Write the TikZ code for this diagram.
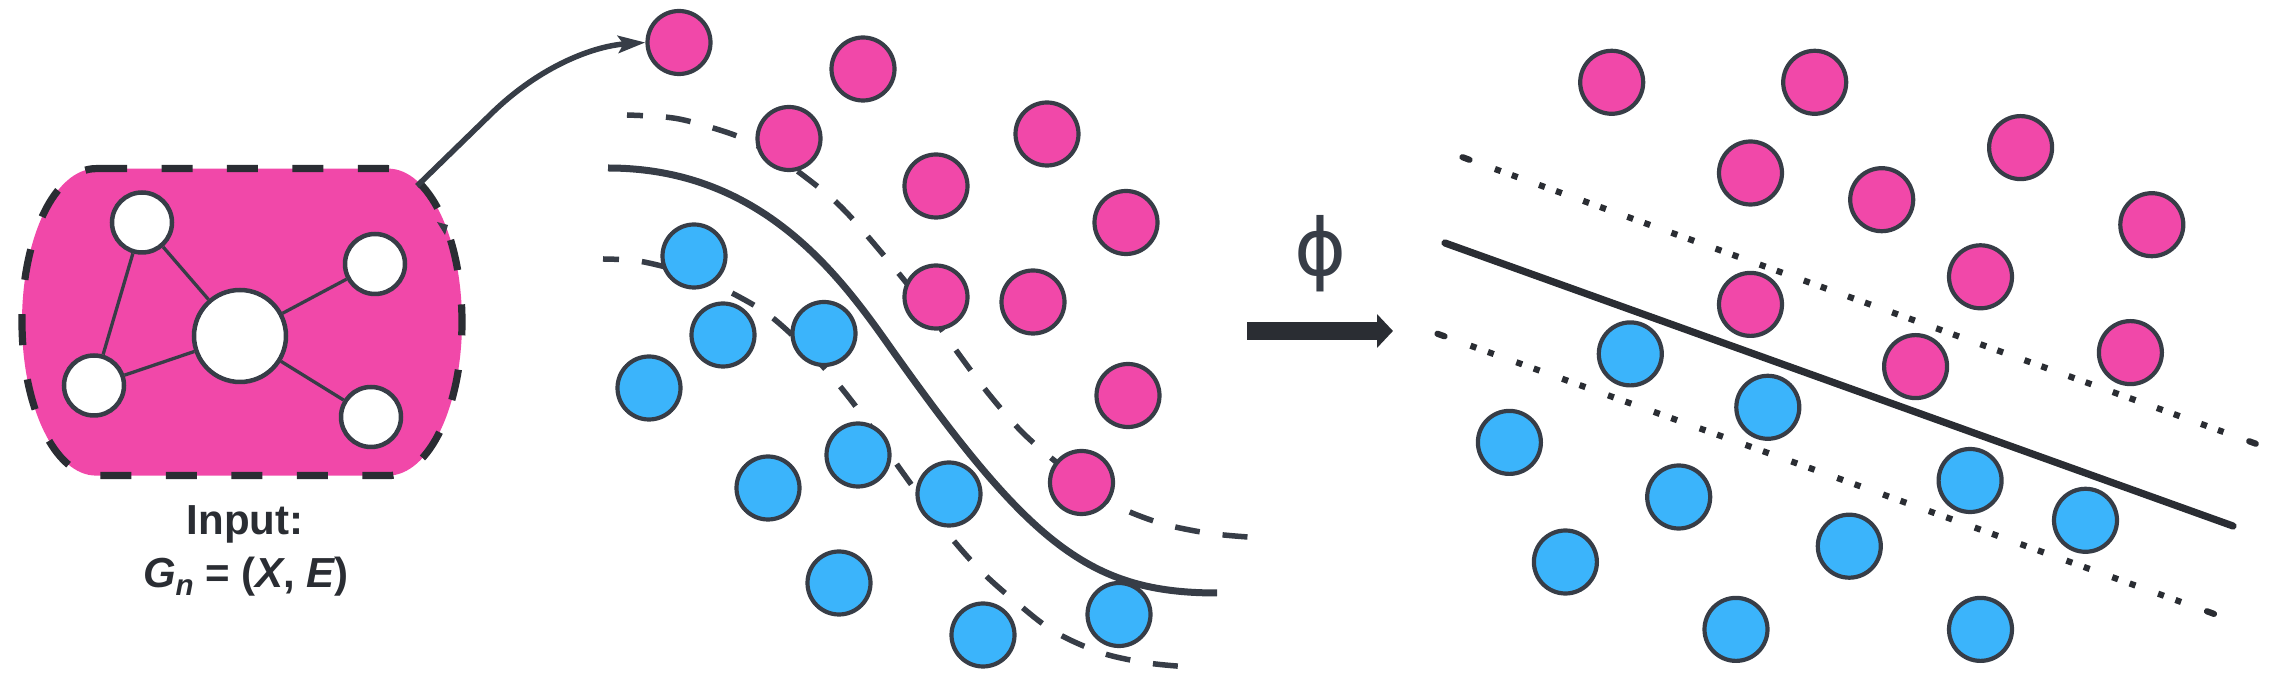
\documentclass[tikz,border=0pt]{standalone}
\usepackage{fontspec}
\setmainfont{Liberation Sans}
\newfontfamily\dejavu{DejaVu Sans}
\usetikzlibrary{arrows.meta}
\definecolor{pinkc}{HTML}{F148A9}
\definecolor{bluec}{HTML}{3BB4FB}
\definecolor{edgec}{HTML}{373D47}
\definecolor{darkc}{HTML}{2A2D33}
\begin{document}
\begin{tikzpicture}[x=0.1mm,y=-0.1mm,
  pt/.style={circle, draw=edgec, line width=0.42mm, minimum size=6.3mm, inner sep=0pt},
  pinkdot/.style={pt, fill=pinkc},
  bluedot/.style={pt, fill=bluec},
  gnode/.style={circle, draw=edgec, fill=white, line width=0.45mm, minimum size=6.0mm, inner sep=0pt},
  bignode/.style={gnode, minimum size=9.2mm},
  gedge/.style={draw=edgec, line width=0.33mm},
  boxborder/.style={draw=darkc, line width=0.72mm, dash pattern=on 3.1mm off 3.45mm},
  sepcurve/.style={draw=edgec, line width=0.7mm},
  margincurve/.style={draw=edgec, line width=0.55mm, dash pattern=on 2.5mm off 2.3mm, dash phase=0.9mm},
  conn/.style={draw=edgec, line width=0.55mm, -{Stealth[length=2.7mm, width=1.7mm, inset=0.5mm]}},
  hyper/.style={draw=darkc, line width=0.72mm, line cap=round},
  dotsA/.style={draw=darkc, line width=0.62mm, dash pattern=on 0.62mm off 1.18mm on 0.62mm off 2.272mm},
  dotsB/.style={draw=darkc, line width=0.62mm, dash pattern=on 0.62mm off 1.23mm on 0.62mm off 2.403mm},
  enddash/.style={draw=darkc, line width=0.62mm, line cap=round},
  lbl/.style={text=darkc, inner sep=0pt, anchor=base, font=\bfseries\fontsize{11.95}{15}\selectfont}
]
\useasboundingbox (0,0) rectangle (2283,687);

% ---------- input graph box ----------
\path[fill=pinkc] (96,168.6) -- (388,168.6)
  .. controls (428.9,168.6) and (462,237.2) .. (462,322)
  .. controls (462,406.8) and (428.9,475.6) .. (388,475.6)
  -- (96,475.6)
  .. controls (55.1,475.6) and (22,406.8) .. (22,322)
  .. controls (22,237.2) and (55.1,168.6) .. (96,168.6) -- cycle;
\path[boxborder] (96,168.6) -- (388,168.6)
  .. controls (428.9,168.6) and (462,237.2) .. (462,322)
  .. controls (462,406.8) and (428.9,475.6) .. (388,475.6)
  -- (96,475.6)
  .. controls (55.1,475.6) and (22,406.8) .. (22,322)
  .. controls (22,237.2) and (55.1,168.6) .. (96,168.6) -- cycle;
\fill[edgec] (437,222) -- (448,225) -- (445,235) -- cycle;

\node[gnode] (g1) at (142,222.5) {};
\node[gnode] (g2) at (375,264) {};
\node[bignode] (gc) at (240,336) {};
\node[gnode] (g3) at (94,385.5) {};
\node[gnode] (g4) at (371,417) {};
\draw[gedge] (g1) -- (gc);
\draw[gedge] (g1) -- (g3);
\draw[gedge] (gc) -- (g2);
\draw[gedge] (gc) -- (g3);
\draw[gedge] (gc) -- (g4);

\node[lbl] (inp) at (245,535) {Input:};
\node[lbl] (gdef) at (246,588) {{\itshape G}\raisebox{-0.17em}{\fontsize{8.4}{10}\selectfont\itshape n} = ({\itshape X}, {\itshape E})};

% ---------- middle panel curves ----------
\draw[margincurve] plot[smooth, tension=0.55] coordinates {(627,115) (665,117) (692,122) (737,136) (770,153) (800,173) (837,203) (870,239) (920,300) (958,353) (988,393) (1020,430) (1050,457) (1080,480) (1115,505) (1160,523) (1207,533) (1248,537)};
\draw[margincurve] plot[smooth, tension=0.55] coordinates {(603,259) (644,262) (700,278) (757,307) (790,333) (827,371) (860,412) (903,473) (945,530) (980,570) (1017,603) (1055,632) (1102,653) (1148,663) (1190,667)};
\coordinate (sepA) at (608,168);
\coordinate (sepM) at (890,347);
\coordinate (sepB) at (1217,593);
\draw[sepcurve] (sepA) .. controls (760,168) and (838,273) .. (sepM)
  .. controls (1030,545) and (1090,593) .. (sepB);

% ---------- middle panel points ----------
\node[pinkdot] (mp1) at (679,42.5) {};
\node[pinkdot] (mp2) at (863,69) {};
\node[pinkdot] (mp3) at (789,138.5) {};
\node[pinkdot] (mp4) at (1047,134) {};
\node[pinkdot] (mp5) at (936,186) {};
\node[pinkdot] (mp6) at (1126,222.5) {};
\node[pinkdot] (mp7) at (936,297) {};
\node[pinkdot] (mp8) at (1033,302) {};
\node[pinkdot] (mp9) at (1128,395.5) {};
\node[pinkdot] (mp10) at (1081.5,482.5) {};

\node[bluedot] (mb1) at (694,256) {};
\node[bluedot] (mb2) at (723,335) {};
\node[bluedot] (mb3) at (824,333.5) {};
\node[bluedot] (mb4) at (649,388) {};
\node[bluedot] (mb5) at (858,455) {};
\node[bluedot] (mb6) at (768,488) {};
\node[bluedot] (mb7) at (949,494) {};
\node[bluedot] (mb8) at (839,583) {};
\node[bluedot] (mb9) at (983,635) {};
\node[bluedot] (mb10) at (1119,614.5) {};

% ---------- arrow from graph to first point ----------
\coordinate (boxout) at (417,186);
\coordinate (bendpt) at (491,114);
\draw[conn] (boxout) -- (bendpt) .. controls (541,65) and (595,46) .. (mp1.west);

% ---------- phi mapping ----------
\node[font=\dejavu\fontsize{22.5}{26}\selectfont, text=edgec, inner sep=0pt] (phi) at (1321,253.4) {ϕ};
\coordinate (phiA) at (1247,331);
\coordinate (phiB) at (1393,331);
\draw[darkc, line width=1.8mm, -{Triangle[length=1.6mm, width=3.3mm]}] (phiA) -- (phiB);

% ---------- right panel lines ----------
\coordinate (hA) at (1445,243);
\coordinate (hB) at (2233,526);
\draw[hyper] (hA) -- (hB);
\coordinate (uA) at (1494.9,169.0);
\coordinate (uB) at (2223.5,432.0);
\draw[dotsA] (uA) -- (uB);
\draw[enddash] (1462.5,157.2) -- (1469.5,159.8);
\draw[enddash] (2249.2,441.3) -- (2255.8,443.7);
\coordinate (lA) at (1470.5,345.7);
\coordinate (lB) at (2181.1,602.0);
\draw[dotsB] (lA) -- (lB);
\draw[enddash] (1437.5,333.8) -- (1444.5,336.3);
\draw[enddash] (2207,611.3) -- (2214,613.9);

% ---------- right panel points ----------
\node[pinkdot] (rp1) at (1611.7,82.3) {};
\node[pinkdot] (rp2) at (1814.7,82.3) {};
\node[pinkdot] (rp3) at (1750.5,173) {};
\node[pinkdot] (rp4) at (2020.6,147.6) {};
\node[pinkdot] (rp5) at (1881.7,199.7) {};
\node[pinkdot] (rp6) at (2151.8,224.7) {};
\node[pinkdot] (rp7) at (1980.5,276.8) {};
\node[pinkdot] (rp8) at (1750.5,304.4) {};
\node[pinkdot] (rp9) at (1915.6,366.6) {};
\node[pinkdot] (rp10) at (2130.4,352.6) {};

\node[bluedot] (rb1) at (1630.3,353.9) {};
\node[bluedot] (rb2) at (1767.8,407.3) {};
\node[bluedot] (rb3) at (1509.4,442.4) {};
\node[bluedot] (rb4) at (1970.1,480.5) {};
\node[bluedot] (rb5) at (2085.5,520.3) {};
\node[bluedot] (rb6) at (1678.7,497) {};
\node[bluedot] (rb7) at (1849.3,546.2) {};
\node[bluedot] (rb8) at (1565.4,562) {};
\node[bluedot] (rb9) at (1736,629.4) {};
\node[bluedot] (rb10) at (1980.5,629.4) {};
\end{tikzpicture}
\end{document}
